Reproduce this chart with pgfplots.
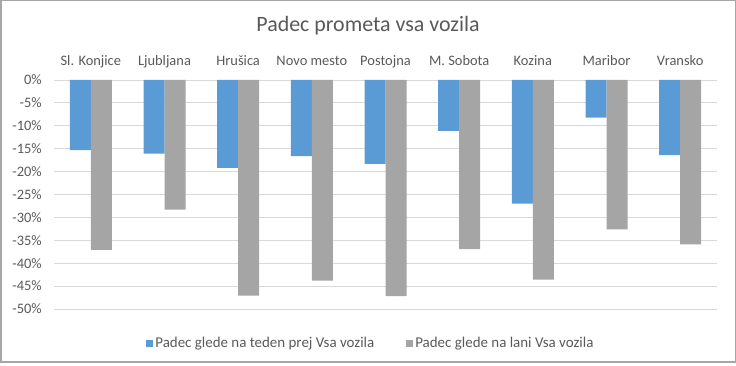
\documentclass[border=0pt]{standalone}
\usepackage{pgfplots}
\pgfplotsset{compat=1.18}
\usepackage{fontspec}
\setmainfont{Carlito}
\definecolor{sblue}{HTML}{5B9BD5}
\definecolor{sgray}{HTML}{A5A5A5}
\definecolor{txt}{HTML}{595959}
\definecolor{grd}{HTML}{D9D9D9}
\definecolor{frm}{HTML}{A6A6A6}
\begin{document}
\begin{tikzpicture}[x=1bp,y=1bp]
\path[use as bounding box] (0,0) rectangle (736,365);
\draw[color=frm, line width=1.5bp] (0.75,3) rectangle (735.25,364.25);
\node[text=txt, font=\fontsize{22}{26}\selectfont] at (368,339) {Padec prometa vsa vozila};
\begin{axis}[at={(54bp,56bp)}, anchor=south west, scale only axis,
  width=663bp, height=229bp,
  xmin=-0.5, xmax=8.5, ymin=-50, ymax=0,
  axis line style={draw=none},
  major tick length=0pt,
  ymajorgrids, grid style={grd, line width=0.8bp},
  ytick={-50,-45,...,0},
  yticklabel={\pgfmathprintnumber{\tick}\%},
  /pgf/number format/assume math mode=true,
  yticklabel style={text=txt, font=\fontsize{14.5}{17}\selectfont, anchor=east, inner sep=0pt, xshift=-12bp},
  xtick={0,...,8},
  xticklabels={Sl. Konjice, Ljubljana, Hrušica, Novo mesto, Postojna, M. Sobota, Kozina, Maribor, Vransko},
  xticklabel pos=upper,
  xticklabel style={text=txt, font=\fontsize{14.5}{17}\selectfont, anchor=base, inner sep=0pt, yshift=14bp},
  ybar=0pt, bar width=21bp,
  legend style={at={(0.478,-0.1485)}, anchor=center, draw=none, fill=none,
    legend columns=2, text=txt, font=\fontsize{15}{17}\selectfont,
    nodes={inner sep=2bp},
    /tikz/every even column/.append style={column sep=30bp}},
  legend image code/.code={\fill[#1] (0bp,-3.5bp) rectangle (7bp,3.5bp);},
]
\addplot[fill=sblue, draw=none] coordinates {(0,-15.3) (1,-16.1) (2,-19.2) (3,-16.6) (4,-18.3) (5,-11.1) (6,-27.0) (7,-8.2) (8,-16.4)};
\addplot[fill=sgray, draw=none] coordinates {(0,-37.1) (1,-28.3) (2,-47.1) (3,-43.8) (4,-47.2) (5,-36.9) (6,-43.6) (7,-32.6) (8,-35.9)};
\legend{Padec glede na teden prej Vsa vozila, Padec glede na lani Vsa vozila}
\end{axis}
\end{tikzpicture}
\end{document}
